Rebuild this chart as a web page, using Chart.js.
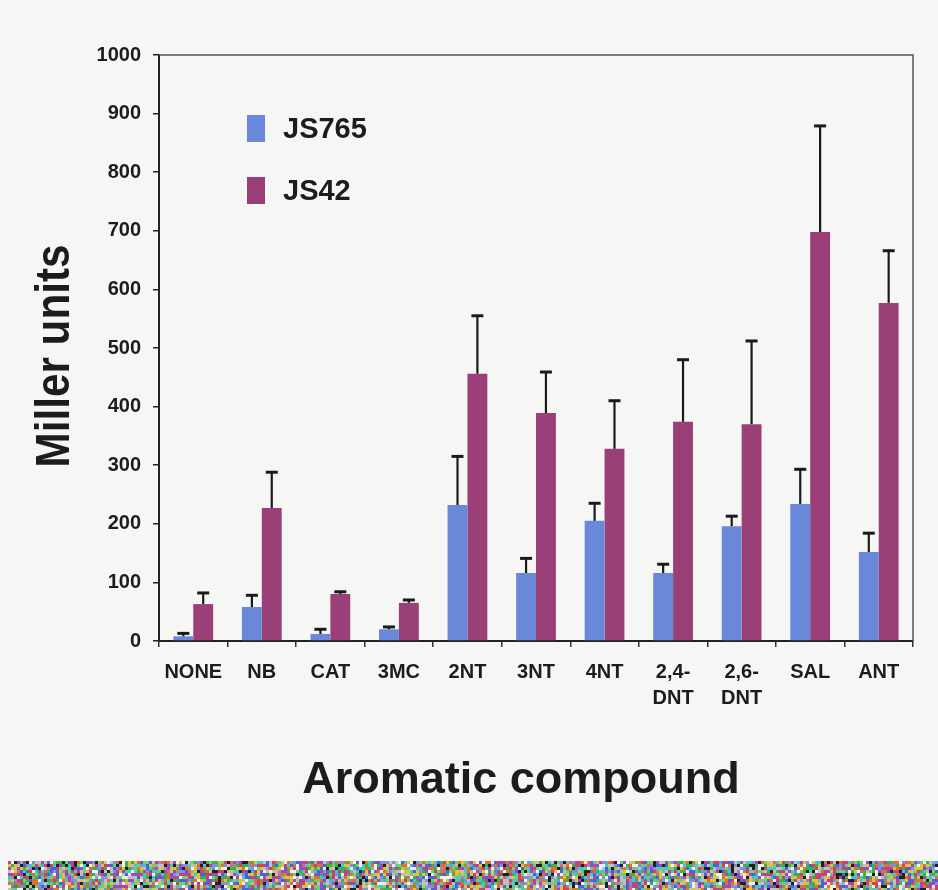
<!DOCTYPE html>
<html>
<head>
<meta charset="utf-8">
<script src="https://cdn.jsdelivr.net/npm/chart.js@4/dist/chart.umd.min.js"></script>
<style>
  html,body{margin:0;padding:0;background:#f6f6f5;}
  #wrap{position:relative;width:938px;height:890px;overflow:hidden;}
  #chart{position:absolute;left:0;top:0;}
  #band{position:absolute;left:8px;top:861px;}
</style>
</head>
<body>
<div id="wrap">
  <canvas id="chart" width="938" height="858"></canvas>
  <canvas id="band" width="930" height="29"></canvas>
</div>
<script>
// data
const compounds = ["NONE","NB","CAT","3MC","2NT","3NT","4NT",["2,4-","DNT"],["2,6-","DNT"],"SAL","ANT"];
const js765 = [8, 58, 12, 20, 232, 116, 205, 116, 196, 234, 152];
const js765Err = [5, 20, 8, 4, 83, 25, 30, 15, 17, 59, 32];
const js42 = [63, 227, 80, 65, 456, 389, 328, 374, 370, 698, 577];
const js42Err = [19, 61, 4, 5, 99, 70, 82, 106, 142, 181, 89];
const yTicks = [0,100,200,300,400,500,600,700,800,900,1000];

const FONT = "'Liberation Sans', Arial, sans-serif";
const errs = [js765Err, js42Err];

const extras = {
  id: "extras",
  afterDatasetsDraw(ch){
    const c = ch.ctx, a = ch.chartArea, y = ch.scales.y;
    // top + right frame
    c.save();
    c.strokeStyle = "#555"; c.lineWidth = 1.5;
    c.beginPath();
    c.moveTo(a.left, a.top); c.lineTo(a.right, a.top); c.lineTo(a.right, a.bottom);
    c.stroke();
    // error bars (upper only)
    c.strokeStyle = "#1a1a1a";
    ch.data.datasets.forEach((ds, i)=>{
      ch.getDatasetMeta(i).data.forEach((bar, j)=>{
        const top = y.getPixelForValue(ds.data[j] + errs[i][j]);
        c.lineWidth = 2.2;
        c.beginPath(); c.moveTo(bar.x, bar.y); c.lineTo(bar.x, top); c.stroke();
        c.lineWidth = 3;
        c.beginPath(); c.moveTo(bar.x-6, top); c.lineTo(bar.x+6, top); c.stroke();
      });
    });
    // legend
    c.textBaseline = "middle"; c.textAlign = "left";
    c.font = "bold 29px " + FONT; c.fillStyle = "#1c1c1c";
    ch.data.datasets.forEach((ds, i)=>{
      const cy = 128 + i*62;
      c.fillStyle = ds.backgroundColor;
      c.fillRect(247, cy-13, 18, 27);
      c.fillStyle = "#1c1c1c";
      c.fillText(ds.label, 283, cy+2);
    });
    // axis titles
    c.font = "bold 45px " + FONT; c.textAlign = "center"; c.textBaseline = "alphabetic";
    c.fillText("Aromatic compound", 521, 793);
    c.translate(69, 356); c.rotate(-Math.PI/2); c.scale(0.88, 1);
    c.font = "bold 48px " + FONT;
    c.fillText("Miller units", 0, 0);
    c.restore();
  }
};

new Chart(document.getElementById("chart"), {
  type: "bar",
  data: {
    labels: compounds,
    datasets: [
      {label:"JS765", data: js765, backgroundColor:"#6a88da"},
      {label:"JS42", data: js42, backgroundColor:"#9a3f78"}
    ]
  },
  options: {
    responsive:false, animation:false,
    layout:{padding:{top:55, right:25, left:0, bottom:0}},
    datasets:{bar:{categoryPercentage:0.58, barPercentage:1}},
    plugins:{legend:{display:false}, tooltip:{enabled:false}},
    scales:{
      x:{
        grid:{drawOnChartArea:false, tickLength:6, color:"#333", lineWidth:1.5},
        border:{color:"#222", width:2},
        ticks:{font:{family:FONT, size:20, weight:"bold", lineHeight:1.3}, color:"#1c1c1c",
               padding:12, maxRotation:0, autoSkip:false},
        afterFit: s=>{ s.height = 217; }
      },
      y:{
        min:0, max:1000,
        afterBuildTicks: s=>{ s.ticks = yTicks.map(v=>({value:v})); },
        grid:{drawOnChartArea:false, tickLength:6, color:"#222", lineWidth:1.5},
        border:{color:"#222", width:2},
        ticks:{font:{family:FONT, size:20, weight:"bold"}, color:"#1c1c1c", padding:12,
               callback: v=>String(v)},
        afterFit: s=>{ s.width = 159; }
      }
    }
  },
  plugins:[extras]
});

// scanner noise strip at the bottom (decoration)
const b = document.getElementById("band").getContext("2d");
const pal = ["#d43c6a","#3cb04a","#4a62d8","#e0c040","#40c8d0","#a048c0","#f0f0f0","#202020","#e07030","#70d070","#8090e0","#c0c0c0"];
for (let yy=0; yy<29; yy+=3) for (let xx=0; xx<930; xx+=3){
  const h = Math.abs(Math.sin(xx*12.9898 + yy*78.233) * 43758.5453);
  b.fillStyle = pal[Math.floor((h - Math.floor(h))*pal.length)];
  b.fillRect(xx, yy, 3, 3);
}
</script>
</body>
</html>
